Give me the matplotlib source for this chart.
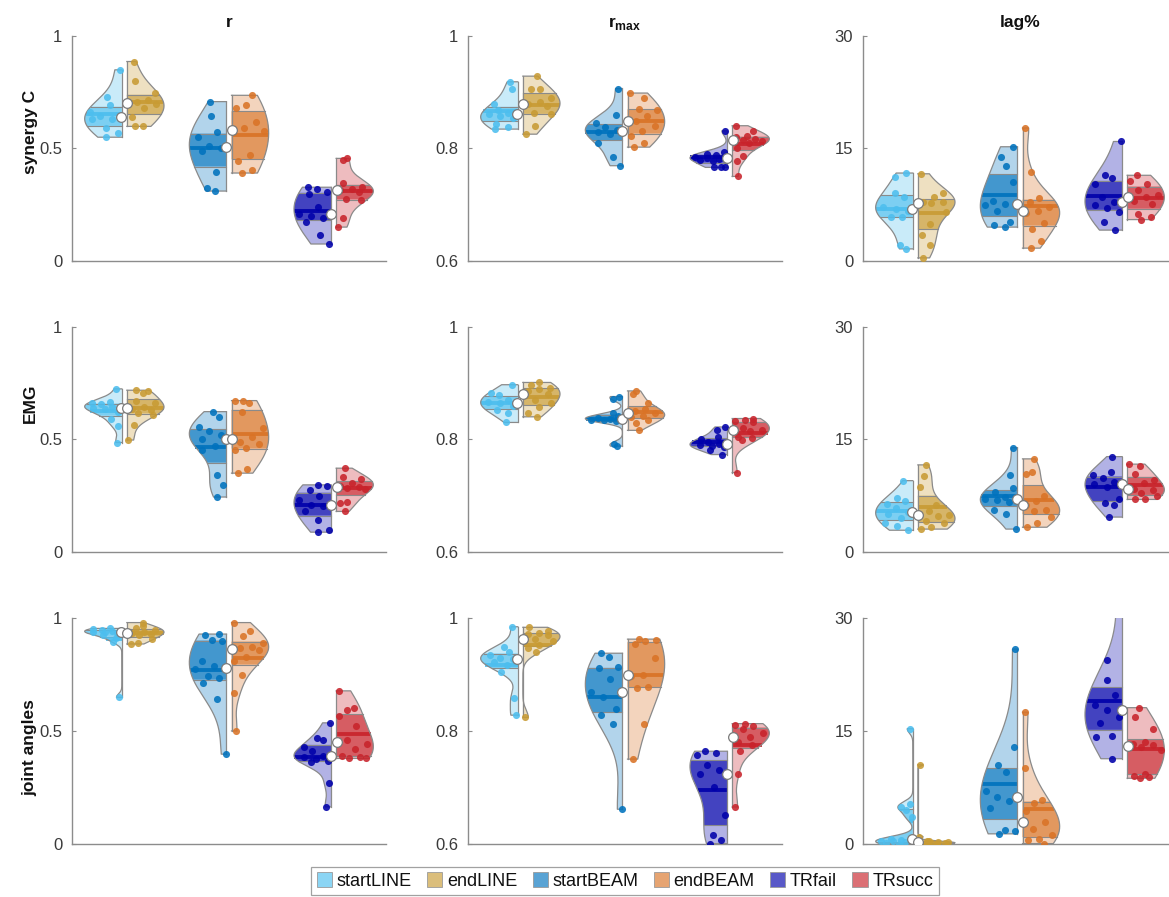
import numpy as np
import matplotlib
matplotlib.use('Agg')
import matplotlib.pyplot as plt
from matplotlib.patches import Patch, Polygon
from matplotlib.colors import to_rgb

plt.rcParams['font.family'] = ['Liberation Sans', 'DejaVu Sans']
plt.rcParams['mathtext.fontset'] = 'custom'
plt.rcParams['mathtext.rm'] = 'Liberation Sans'
plt.rcParams['mathtext.bf'] = 'Liberation Sans:bold'

# ---------------- data ----------------
groups = ['startLINE', 'endLINE', 'startBEAM', 'endBEAM', 'TRfail', 'TRsucc']
group_colors = ['#4DBEEE', '#C89B34', '#0072BD', '#D97326', '#0000AA', '#C8232B']
row_labels = ['synergy C', 'EMG', 'joint angles']
col_titles = ['r', r'$\mathbf{r}_{\mathbf{max}}$', 'lag%']
col_ylims = [(0, 1), (0.6, 1), (0, 30)]
col_ticks = [[0, 0.5, 1], [0.6, 0.8, 1], [0, 15, 30]]
col_ticklabels = [['0', '0.5', '1'], ['0.6', '0.8', '1'], ['0', '15', '30']]

synergyC_r = [
    [0.848, 0.729, 0.692, 0.66, 0.645, 0.632, 0.629, 0.589, 0.567, 0.549],
    [0.885, 0.80, 0.745, 0.715, 0.705, 0.695, 0.68, 0.64, 0.60, 0.597],
    [0.707, 0.645, 0.57, 0.55, 0.51, 0.50, 0.49, 0.395, 0.325, 0.31],
    [0.735, 0.69, 0.68, 0.615, 0.59, 0.575, 0.47, 0.445, 0.405, 0.39],
    [0.327, 0.318, 0.308, 0.296, 0.24, 0.21, 0.20, 0.189, 0.172, 0.115, 0.075],
    [0.455, 0.448, 0.345, 0.33, 0.32, 0.315, 0.305, 0.275, 0.27, 0.19, 0.15],
]
synergyC_rmax = [
    [0.918, 0.906, 0.879, 0.868, 0.862, 0.86, 0.857, 0.853, 0.843, 0.838, 0.834],
    [0.928, 0.906, 0.905, 0.89, 0.883, 0.878, 0.875, 0.862, 0.86, 0.84, 0.825],
    [0.906, 0.859, 0.844, 0.838, 0.832, 0.828, 0.826, 0.81, 0.785, 0.769],
    [0.898, 0.889, 0.87, 0.868, 0.857, 0.848, 0.84, 0.831, 0.821, 0.81, 0.802],
    [0.831, 0.794, 0.79, 0.788, 0.785, 0.783, 0.781, 0.78, 0.777, 0.767, 0.766, 0.766],
    [0.84, 0.83, 0.822, 0.82, 0.816, 0.815, 0.813, 0.81, 0.80, 0.786, 0.778, 0.75],
]
synergyC_lag = [
    [11.7, 11.2, 9.0, 8.5, 7.2, 6.9, 6.6, 5.9, 5.8, 2.1, 1.6],
    [11.6, 9.1, 8.5, 7.9, 7.8, 7.7, 6.5, 4.9, 3.5, 2.1, 0.4],
    [15.2, 13.8, 12.6, 10.5, 8.0, 7.6, 7.4, 6.7, 5.2, 4.8, 4.5],
    [17.7, 11.9, 8.4, 7.9, 7.2, 6.6, 6.4, 5.1, 4.3, 2.6, 1.7],
    [15.9, 11.4, 11.0, 10.3, 8.5, 7.9, 7.5, 7.1, 6.5, 5.2, 4.1],
    [11.4, 10.6, 10.3, 9.5, 8.8, 8.5, 8.0, 7.6, 6.3, 5.9, 5.5],
]
emg_r = [
    [0.724, 0.667, 0.663, 0.655, 0.645, 0.64, 0.636, 0.62, 0.59, 0.56, 0.486],
    [0.718, 0.716, 0.704, 0.67, 0.663, 0.645, 0.635, 0.63, 0.616, 0.61, 0.564, 0.497],
    [0.623, 0.597, 0.557, 0.535, 0.52, 0.50, 0.471, 0.453, 0.34, 0.298, 0.244],
    [0.672, 0.669, 0.663, 0.62, 0.55, 0.51, 0.49, 0.48, 0.461, 0.453, 0.369, 0.35],
    [0.298, 0.294, 0.276, 0.25, 0.232, 0.21, 0.202, 0.18, 0.143, 0.098, 0.088],
    [0.372, 0.335, 0.324, 0.306, 0.295, 0.29, 0.285, 0.28, 0.224, 0.217, 0.18],
]
emg_rmax = [
    [0.897, 0.882, 0.879, 0.87, 0.866, 0.864, 0.86, 0.852, 0.847, 0.83],
    [0.901, 0.897, 0.892, 0.889, 0.885, 0.88, 0.87, 0.864, 0.857, 0.847, 0.84],
    [0.876, 0.872, 0.846, 0.842, 0.838, 0.837, 0.835, 0.834, 0.832, 0.792, 0.788],
    [0.886, 0.88, 0.864, 0.853, 0.85, 0.846, 0.842, 0.84, 0.835, 0.829, 0.816],
    [0.822, 0.817, 0.804, 0.8, 0.795, 0.792, 0.79, 0.789, 0.786, 0.781, 0.773],
    [0.837, 0.835, 0.832, 0.83, 0.82, 0.816, 0.814, 0.805, 0.802, 0.799, 0.741],
]
emg_lag = [
    [9.5, 7.2, 6.8, 6.4, 5.8, 5.3, 5.0, 4.5, 3.9, 3.4, 2.9],
    [11.6, 10.1, 8.7, 6.3, 5.5, 4.9, 4.8, 4.1, 3.8, 3.3, 3.05],
    [13.9, 10.2, 8.5, 8.0, 7.3, 7.0, 6.9, 6.6, 5.6, 5.0, 3.05],
    [12.4, 10.6, 10.4, 7.4, 6.8, 6.2, 5.6, 5.4, 4.7, 3.8, 3.3],
    [12.7, 10.7, 10.3, 9.8, 9.3, 9.1, 8.7, 7.0, 6.5, 6.3, 4.65],
    [11.7, 11.4, 10.4, 9.6, 9.2, 8.4, 8.2, 7.8, 7.4, 7.1, 7.0],
]
joint_r = [
    [0.955, 0.953, 0.95, 0.945, 0.94, 0.937, 0.935, 0.925, 0.911, 0.896, 0.649],
    [0.981, 0.966, 0.955, 0.948, 0.94, 0.936, 0.93, 0.926, 0.91, 0.892, 0.886],
    [0.93, 0.928, 0.905, 0.90, 0.81, 0.79, 0.773, 0.745, 0.733, 0.711, 0.64, 0.397],
    [0.981, 0.945, 0.92, 0.889, 0.871, 0.866, 0.859, 0.83, 0.81, 0.748, 0.669, 0.50],
    [0.536, 0.47, 0.462, 0.43, 0.41, 0.39, 0.385, 0.375, 0.365, 0.363, 0.269, 0.163],
    [0.678, 0.60, 0.595, 0.566, 0.52, 0.46, 0.44, 0.42, 0.39, 0.385, 0.38, 0.378],
]
joint_rmax = [
    [0.985, 0.949, 0.94, 0.935, 0.93, 0.927, 0.922, 0.917, 0.905, 0.859, 0.828],
    [0.984, 0.978, 0.974, 0.973, 0.97, 0.964, 0.96, 0.953, 0.948, 0.941, 0.824],
    [0.938, 0.932, 0.913, 0.911, 0.893, 0.87, 0.86, 0.839, 0.828, 0.812, 0.661],
    [0.963, 0.962, 0.96, 0.955, 0.93, 0.899, 0.897, 0.878, 0.877, 0.812, 0.75],
    [0.764, 0.76, 0.757, 0.739, 0.73, 0.724, 0.70, 0.65, 0.615, 0.606, 0.60],
    [0.813, 0.81, 0.808, 0.804, 0.797, 0.79, 0.781, 0.775, 0.765, 0.724, 0.665],
]
joint_lag = [
    [15.3, 5.3, 4.9, 4.5, 3.5, 0.6, 0.5, 0.4, 0.3, 0.2, 0.1, 0.0],
    [10.5, 0.9, 0.4, 0.3, 0.2, 0.15, 0.12, 0.1, 0.05, 0.02, 0.0],
    [25.9, 12.9, 10.5, 9.55, 7.0, 6.2, 5.7, 4.7, 1.8, 1.7, 1.3],
    [17.5, 10.0, 5.8, 5.4, 4.4, 2.9, 2.0, 1.1, 0.66, 0.5, 0.0],
    [34.0, 24.4, 21.8, 19.8, 18.5, 17.8, 16.9, 16.0, 14.3, 14.2, 11.3],
    [18.1, 16.8, 15.2, 13.5, 13.3, 13.1, 12.9, 12.5, 9.3, 9.0, 8.9, 8.7],
]

panels = [[synergyC_r, synergyC_rmax, synergyC_lag],
          [emg_r, emg_rmax, emg_lag],
          [joint_r, joint_rmax, joint_lag]]

# ---------------- style ----------------
W, H = 1169, 897
fig = plt.figure(figsize=(W / 100, H / 100), dpi=100)

col_left = [72 / W, 468 / W, 863 / W]
ax_w = 314 / W
row_top_px = [35.6, 326.7, 618.3]
ax_h = 225.3 / H

SPINE = '#8c8c8c'
TXT = '#3a3a3a'
OUTLINE = '#8a8a8a'
HALF_W = 0.355
GAP = 0.024


def kde(x, grid):
    x = np.asarray(x, float)
    n = len(x)
    sig = np.median(np.abs(x - np.median(x))) / 0.6745
    if sig <= 0:
        sig = np.std(x) if np.std(x) > 0 else 1e-3
    bw = 1.25 * sig * (4.0 / (3.0 * n)) ** 0.2
    d = np.exp(-0.5 * ((grid[:, None] - x[None, :]) / bw) ** 2).sum(1)
    return d


def lighten(c, a):
    r = np.array(to_rgb(c))
    return tuple(1 - a * (1 - r))


def half_violin(ax, vals, center, side, color, k0):
    vals = np.asarray(vals, float)
    lo, hi = vals.min(), vals.max()
    grid = np.linspace(lo, hi, 160)
    d = kde(vals, grid)
    w = HALF_W * d / d.max()
    sgn = -1 if side == 'left' else 1
    inner = center + sgn * GAP
    outer = inner + sgn * w

    def wid(y):
        return np.interp(y, grid, w)

    xs = np.concatenate([[inner], outer, [inner]])
    ys = np.concatenate([[lo], grid, [hi]])
    ax.add_patch(Polygon(np.c_[xs, ys], closed=True, facecolor=color, alpha=0.3,
                         edgecolor='none', zorder=1))
    q1, med, q3 = np.percentile(vals, [25, 50, 75])
    mean = vals.mean()
    m = (grid > q1) & (grid < q3)
    gy = np.concatenate([[q1], grid[m], [q3]])
    gx = inner + sgn * wid(gy)
    xs2 = np.concatenate([[inner], gx, [inner]])
    ys2 = np.concatenate([[q1], gy, [q3]])
    ax.add_patch(Polygon(np.c_[xs2, ys2], closed=True, facecolor=color, alpha=0.62,
                         edgecolor='none', zorder=2))
    for q in (q1, q3):
        ax.plot([inner, inner + sgn * wid(q)], [q, q], color=OUTLINE, lw=0.8, zorder=3)
    ax.plot([inner, inner + sgn * wid(mean)], [mean, mean], color=color, lw=2.8,
            alpha=0.9, solid_capstyle='butt', zorder=3)
    ax.plot(xs, ys, color=OUTLINE, lw=0.9, zorder=3)
    ax.plot([inner, inner], [lo, hi], color=OUTLINE, lw=0.9, zorder=3)
    idx = np.arange(len(vals)) + k0
    u = (idx * 0.6180339887 + 0.13) % 1.0
    px = inner + sgn * (0.08 + 0.85 * u) * wid(vals)
    ax.scatter(px, vals, s=26, color=color, alpha=0.88, linewidths=0, zorder=4)
    ax.plot([center + sgn * 0.03], [med], marker='o', ms=7, mfc='white',
            mec='#7a7a7a', mew=0.9, zorder=5)


for ri in range(3):
    for ci in range(3):
        bottom = 1 - (row_top_px[ri] + 225.3) / H
        ax = fig.add_axes([col_left[ci], bottom, ax_w, ax_h])
        ax.set_xlim(0.5, 3.5)
        ax.set_ylim(*col_ylims[ci])
        data = panels[ri][ci]
        for gi in range(3):
            center = gi + 1
            half_violin(ax, data[2 * gi], center, 'left', group_colors[2 * gi], 3 * gi + ri + ci)
            half_violin(ax, data[2 * gi + 1], center, 'right', group_colors[2 * gi + 1], 5 * gi + ri + 2 * ci + 1)
        for s in ('top', 'right'):
            ax.spines[s].set_visible(False)
        for s in ('left', 'bottom'):
            ax.spines[s].set_color(SPINE)
            ax.spines[s].set_linewidth(1.0)
        ax.set_xticks([])
        ax.set_yticks(col_ticks[ci])
        ax.set_yticklabels(col_ticklabels[ci])
        ax.tick_params(axis='y', direction='in', length=3, width=0.8, color=SPINE,
                       labelcolor=TXT, labelsize=12, pad=7)
        if ri == 0:
            ax.set_title(col_titles[ci], fontsize=12.5, fontweight='bold', color='#111111', pad=6)

row_label_y = [132, 403, 748]
for ri in range(3):
    fig.text(30 / W, 1 - row_label_y[ri] / H, row_labels[ri], rotation=90, ha='center',
             va='center', fontsize=12.5, fontweight='bold', color='#111111')

handles = [Patch(facecolor=lighten(c, 0.65), edgecolor='#9a9a9a', linewidth=0.6) for c in group_colors]
leg = fig.legend(handles, groups, loc='center', bbox_to_anchor=(625 / W, 1 - 881 / H), ncol=6,
                 frameon=True, fancybox=False, edgecolor='#8a8a8a', fontsize=13,
                 handlelength=0.85, handleheight=0.85, handletextpad=0.25, columnspacing=0.85,
                 borderpad=0.3, borderaxespad=0)
leg.get_frame().set_linewidth(0.9)
for t in leg.get_texts():
    t.set_color('#111111')

fig.savefig('out.png', dpi=100)
